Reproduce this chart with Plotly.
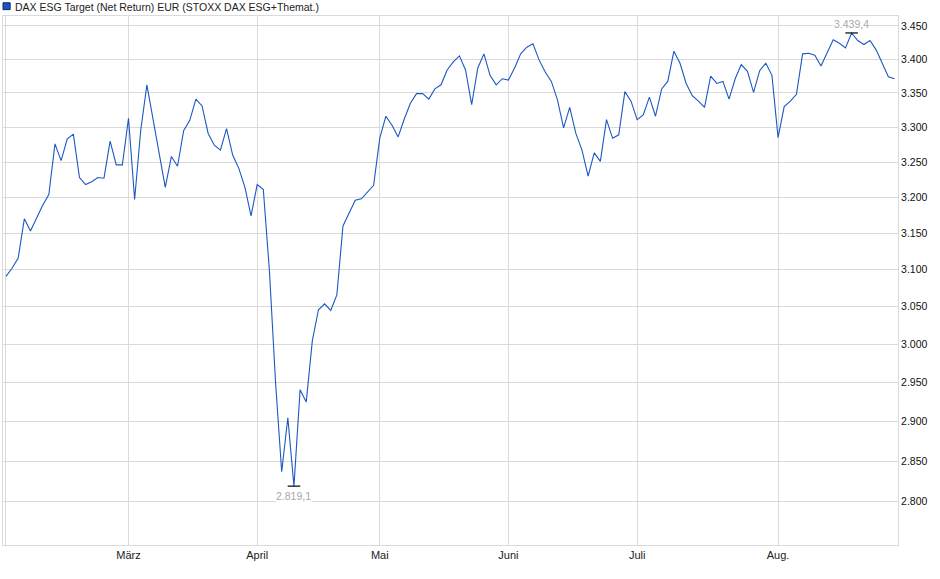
import math
import pandas as pd
import plotly.graph_objects as go

# trading days Feb 3 - Aug 28 2025 (Xetra holidays removed)
holidays = ['2025-04-18', '2025-04-21', '2025-05-01']
days = [d for d in pd.bdate_range('2025-02-03', '2025-08-28') if d.strftime('%Y-%m-%d') not in holidays]
dates = [d.strftime('%Y-%m-%d') for d in days]

values = [
    3091, 3102, 3116, 3170, 3153, 3172, 3189, 3204, 3276, 3252,
    3283, 3290, 3228, 3218, 3222, 3228, 3227, 3280, 3246, 3246,
    3313, 3197, 3296, 3362, 3310, 3262, 3214, 3258, 3244, 3295,
    3310, 3341, 3331, 3291, 3274, 3267, 3298, 3260, 3241, 3214,
    3174, 3218, 3211, 3098, 2950, 2837, 2905, 2819.1, 2941, 2925,
    3005, 3046, 3054, 3045, 3066, 3160, 3177, 3196, 3198, 3208,
    3217, 3284, 3316, 3303, 3286, 3312, 3335, 3349, 3349, 3341,
    3356, 3362, 3384, 3396, 3405, 3384, 3333, 3387, 3408, 3376,
    3362, 3371, 3369, 3387, 3408, 3418, 3423, 3399, 3381, 3367,
    3340, 3299, 3329, 3291, 3267, 3230, 3263, 3251, 3311, 3284,
    3289, 3352, 3338, 3311, 3318, 3344, 3316, 3356, 3367, 3412,
    3394, 3364, 3346, 3338, 3329, 3375, 3364, 3367, 3341, 3371,
    3392, 3382, 3351, 3383, 3394, 3376, 3285, 3330, 3338, 3348,
    3408, 3409, 3406, 3390, 3409, 3429, 3424, 3417, 3439.4, 3428,
    3422, 3428, 3414, 3394, 3374, 3371,
]

month_labels = ['', 'März', 'April', 'Mai', 'Juni', 'Juli', 'Aug.']
y_ticks = list(range(2800, 3451, 50))
series_name = 'DAX ESG Target (Net Return) EUR (STOXX DAX ESG+Themat.)'


def de_num(v, dec=0):
    s = f'{v:,.{dec}f}'
    return s.replace(',', 'X').replace('.', ',').replace('X', '.')


# first trading day of every month -> vertical grid lines
month_starts = []
for d in dates:
    if not month_starts or d[:7] != month_starts[-1][:7]:
        month_starts.append(d)

grid = '#dadada'
line_blue = '#1c58c2'
font = 'Liberation Sans, Arial, sans-serif'

imax = values.index(max(values))
imin = values.index(min(values))

fig = go.Figure()
fig.add_trace(go.Scatter(x=dates, y=values, mode='lines',
                         line=dict(color=line_blue, width=1.1),
                         showlegend=False, hoverinfo='skip'))
fig.add_trace(go.Scatter(x=[dates[imax], dates[imin]], y=[values[imax], values[imin]],
                         mode='markers', showlegend=False, hoverinfo='skip',
                         marker=dict(symbol='line-ew', size=9, line=dict(color='black', width=1.2))))

fig.add_annotation(x=dates[imax], y=math.log10(values[imax]), text=de_num(values[imax], 1),
                   showarrow=False, yshift=9, bgcolor='white', borderpad=0,
                   font=dict(family=font, size=10.5, color='#a8a8a8'))
fig.add_annotation(x=dates[imin], y=math.log10(values[imin]), text=de_num(values[imin], 1),
                   showarrow=False, yshift=-10, bgcolor='white', borderpad=0,
                   font=dict(family=font, size=10.5, color='#a8a8a8'))

# legend box
fig.add_shape(type='rect', xref='paper', yref='paper', x0=0, x1=0.008, y0=1.012, y1=1.025,
              fillcolor='#1a55c0', line=dict(color='#0d2a66', width=1))
fig.add_annotation(xref='paper', yref='paper', x=0.0, y=1.0, xshift=10, yshift=9,
                   xanchor='left', yanchor='middle', showarrow=False, text=series_name,
                   font=dict(family=font, size=10.5, color='#222222'))

fig.update_xaxes(type='category', range=[-0.48, len(dates) - 0.43], automargin=False,
                 tickmode='array', tickvals=month_starts, ticktext=month_labels,
                 showgrid=True, gridcolor=grid, gridwidth=1,
                 showline=True, linecolor=grid, mirror=True, ticks='',
                 tickfont=dict(family=font, size=11, color='#222222'), zeroline=False)
fig.update_yaxes(type='log', side='right', automargin=False,
                 range=[math.log10(2747.2), math.log10(3465.1)],
                 tickmode='array', tickvals=y_ticks, ticktext=[de_num(v) for v in y_ticks],
                 showgrid=True, gridcolor=grid, gridwidth=1,
                 showline=True, linecolor=grid, mirror=True, ticks='',
                 tickfont=dict(family=font, size=10.5, color='#111111'), zeroline=False)

fig.update_layout(width=940, height=579, margin=dict(l=3, r=42, t=16, b=34),
                  paper_bgcolor='white', plot_bgcolor='white')

# page body has a default 8px margin; drop it so the chart sits at 0,0
fig.write_html('out.html', config={'displayModeBar': False},
               post_script="document.body.style.margin='0';")
